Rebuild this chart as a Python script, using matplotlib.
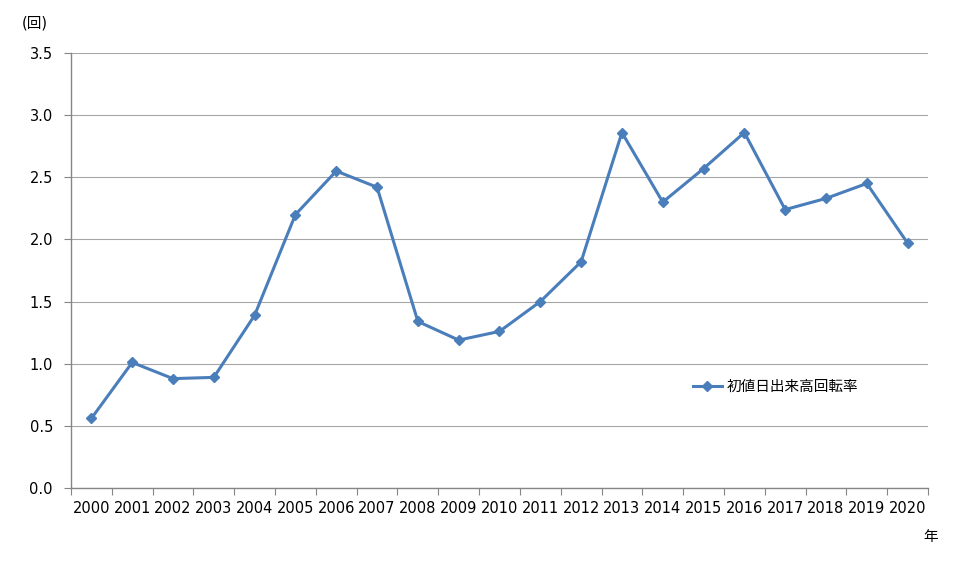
import matplotlib.pyplot as plt
from matplotlib import font_manager
import numpy as np

plt.rcParams['font.family'] = ['DejaVu Sans', 'Noto Sans CJK JP']

years = [str(y) for y in range(2000, 2021)]
turnover = [0.56, 1.01, 0.88, 0.89, 1.39, 2.20, 2.55, 2.42, 1.34, 1.19, 1.26,
            1.50, 1.82, 2.86, 2.30, 2.57, 2.86, 2.24, 2.33, 2.45, 1.97]
series_name = '初値日出来高回転率'

# wide latin font for the numbers, like the original's Verdana
dejavu = font_manager.FontProperties(
    fname=font_manager.findfont(font_manager.FontProperties(family='DejaVu Sans')),
    size=10.5)

fig = plt.figure(figsize=(9.75, 5.63), dpi=100)
ax = fig.add_axes([0.0728, 0.1332, 0.8790, 0.7727])

x = np.arange(len(years))
ax.plot(x, turnover, color='#4A7EBB', linewidth=2.2, marker='D', markersize=5,
        label=series_name, zorder=5)

ax.set_xlim(-0.5, len(years) - 0.5)
ax.set_ylim(0, 3.5)
ax.set_yticks(np.arange(0, 3.51, 0.5))
ax.set_yticklabels([f'{v:.1f}' for v in np.arange(0, 3.51, 0.5)], fontproperties=dejavu)
ax.yaxis.grid(True, color='#A6A6A6', linewidth=0.8)
ax.set_axisbelow(True)

# category labels between the boundary ticks
ax.set_xticks(np.arange(-0.5, len(years) + 0.5, 1.0))
ax.set_xticklabels([])
ax.set_xticks(x, minor=True)
ax.set_xticklabels(years, minor=True, fontproperties=dejavu)
ax.tick_params(axis='x', which='major', length=5, color='#868686', direction='out')
ax.tick_params(axis='x', which='minor', length=0, pad=9)
ax.tick_params(axis='y', length=5, color='#868686', pad=8)

for side in ['top', 'right']:
    ax.spines[side].set_visible(False)
for side in ['left', 'bottom']:
    ax.spines[side].set_color('#868686')
    ax.spines[side].set_linewidth(1.0)

fig.text(0.022, 0.960, '(回)', fontsize=10.5, va='center', ha='left',
         family=['DejaVu Sans', 'Noto Sans CJK JP'])
fig.text(0.955, 0.046, '年', fontsize=10.5, va='center', ha='center',
         family='Noto Sans CJK JP')

ax.legend(loc='center left', bbox_to_anchor=(0.71, 0.232), frameon=False,
          prop={'family': 'Noto Sans CJK JP', 'size': 10.5},
          handlelength=2.0, handletextpad=0.3)

fig.savefig('out.png', dpi=100)
